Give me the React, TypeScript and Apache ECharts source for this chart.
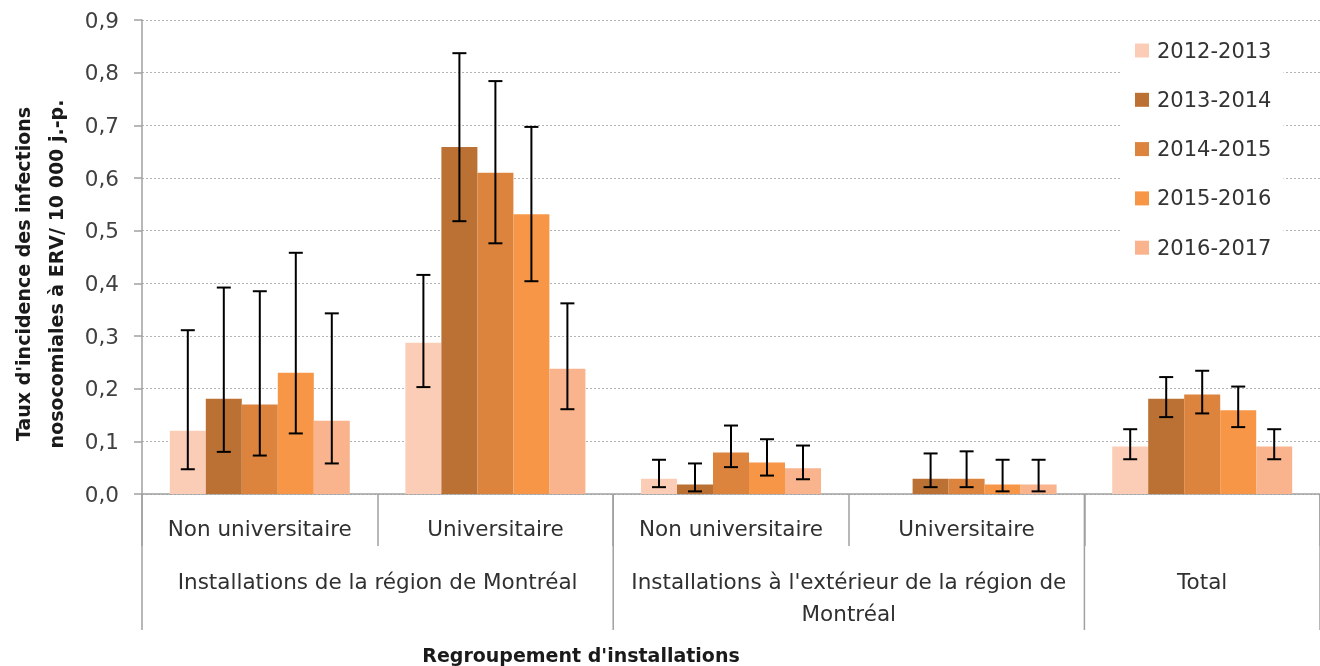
import React, { useEffect, useRef } from "react";
import * as echarts from "echarts";

const categories = ["Non universitaire", "Universitaire", "Non universitaire", "Universitaire", ""];
const groupLabels = ["Installations de la région de Montréal", "Installations à l'extérieur de la région de\nMontréal", "Total"];
const groupStarts = [0, 2, 4];
const groupEnds = [2, 4, 5];

const years = ["2012-2013", "2013-2014", "2014-2015", "2015-2016", "2016-2017"];
const colors = ["#FBCDB6", "#BA7133", "#DC843E", "#F79646", "#F9B38D"];

const v2012 = [0.12, 0.287, 0.029, null, 0.09];
const v2013 = [0.181, 0.659, 0.018, 0.029, 0.181];
const v2014 = [0.17, 0.61, 0.079, 0.029, 0.189];
const v2015 = [0.23, 0.531, 0.06, 0.018, 0.159];
const v2016 = [0.139, 0.238, 0.049, 0.018, 0.09];

const lo2012 = [0.047, 0.203, 0.013, null, 0.066];
const hi2012 = [0.311, 0.416, 0.065, null, 0.123];
const lo2013 = [0.08, 0.518, 0.005, 0.013, 0.146];
const hi2013 = [0.392, 0.837, 0.058, 0.077, 0.222];
const lo2014 = [0.073, 0.476, 0.051, 0.013, 0.153];
const hi2014 = [0.385, 0.784, 0.13, 0.081, 0.234];
const lo2015 = [0.115, 0.404, 0.035, 0.005, 0.127];
const hi2015 = [0.458, 0.697, 0.104, 0.065, 0.204];
const lo2016 = [0.058, 0.161, 0.028, 0.005, 0.066];
const hi2016 = [0.343, 0.362, 0.092, 0.065, 0.123];

const yTicks = [0, 0.1, 0.2, 0.3, 0.4, 0.5, 0.6, 0.7, 0.8, 0.9];
const yTitle = "Taux d'incidence des infections\nnosocomiales à ERV/ 10 000 j.-p.";
const xTitle = "Regroupement d'installations";

const values = [v2012, v2013, v2014, v2015, v2016];
const lows = [lo2012, lo2013, lo2014, lo2015, lo2016];
const highs = [hi2012, hi2013, hi2014, hi2015, hi2016];

const FONT = "DejaVu Sans";
const GAP = 0.236;
const N = years.length;

export default function App() {
  const ref = useRef<HTMLDivElement>(null);
  useEffect(() => {
    if (!ref.current) return;
    const chart = echarts.init(ref.current, undefined, { renderer: "svg" });
    const barSeries = years.map((y, k) => ({
      name: y,
      type: "bar",
      data: values[k].map((v) => (v === null ? "-" : v)),
      itemStyle: { color: colors[k] },
      barGap: "0%",
      barCategoryGap: GAP * 100 + "%",
      z: 2,
    }));
    const errSeries = years.map((y, k) => ({
      name: "err " + y,
      type: "custom",
      z: 5,
      encode: { x: 0, y: [1, 2] },
      data: categories.map((_, i) => [i, lows[k][i] === null ? "-" : lows[k][i], highs[k][i] === null ? "-" : highs[k][i]]),
      renderItem: (params: any, api: any) => {
        const idx = api.value(0);
        const lo = api.value(1);
        const hi = api.value(2);
        if (isNaN(lo) || isNaN(hi)) return null;
        const band = api.size([1, 0])[0];
        const bw = (band * (1 - GAP)) / N;
        const center = api.coord([idx, 0])[0];
        const x = center - (band * (1 - GAP)) / 2 + (k + 0.5) * bw;
        const yl = api.coord([idx, lo])[1];
        const yh = api.coord([idx, hi])[1];
        const cap = 7;
        const st = { stroke: "#000", lineWidth: 2 };
        return {
          type: "group",
          children: [
            { type: "line", shape: { x1: x, y1: yl, x2: x, y2: yh }, style: st },
            { type: "line", shape: { x1: x - cap, y1: yh, x2: x + cap, y2: yh }, style: st },
            { type: "line", shape: { x1: x - cap, y1: yl, x2: x + cap, y2: yl }, style: st },
          ],
        };
      },
    }));
    const option: any = {
      animation: false,
      textStyle: { fontFamily: FONT },
      grid: { left: 142, right: 0, top: 20, bottom: 172, containLabel: false },
      legend: {
        data: years,
        orient: "vertical",
        left: 1122,
        top: 27,
        icon: "rect",
        itemWidth: 14,
        itemHeight: 14,
        itemGap: 28.3,
        padding: [13, 12, 13, 13],
        backgroundColor: "#ffffff",
        textStyle: { fontFamily: FONT, fontSize: 21, color: "#333333", lineHeight: 20, padding: [0, 0, 0, 3] },
        selectedMode: false,
      },
      xAxis: {
        type: "category",
        data: categories,
        axisLine: { lineStyle: { color: "#a0a0a0", width: 1.5 } },
        axisTick: { show: true, interval: 0, length: 52, lineStyle: { color: "#a0a0a0", width: 1.5 } },
        axisLabel: { interval: 0, margin: 23, fontFamily: FONT, fontSize: 21.5, color: "#303030" },
        splitLine: { show: false },
      },
      yAxis: {
        type: "value",
        min: 0,
        max: 0.9,
        interval: 0.1,
        axisLine: { show: true, lineStyle: { color: "#a0a0a0", width: 1.5 } },
        axisTick: { show: true, length: 8, lineStyle: { color: "#a0a0a0", width: 1.5 } },
        axisLabel: {
          margin: 23,
          fontFamily: FONT,
          fontSize: 21.5,
          color: "#404040",
          formatter: (v: number) => {
            const t = yTicks.find((x) => Math.abs(x - v) < 1e-9);
            return (t === undefined ? v : t).toFixed(1).replace(".", ",");
          },
        },
        splitLine: { show: true, lineStyle: { color: "#b4b4b4", type: [2, 2], width: 1.2 } },
      },
      series: [...barSeries, ...errSeries],
    };
    chart.setOption(option);

    const c0 = chart.convertToPixel({ xAxisIndex: 0 }, 0) as number;
    const c1 = chart.convertToPixel({ xAxisIndex: 0 }, 1) as number;
    const band = c1 - c0;
    const axisY = chart.convertToPixel({ yAxisIndex: 0 }, 0) as number;
    const bound = (i: number) => c0 + (i - 0.5) * band;
    const lineStyle = { stroke: "#a0a0a0", lineWidth: 1.5 };
    const graphics: any[] = [];
    const longBounds = [...groupStarts, groupEnds[groupEnds.length - 1]];
    longBounds.forEach((b) => {
      graphics.push({ type: "line", shape: { x1: bound(b), y1: axisY, x2: bound(b), y2: axisY + 136 }, style: lineStyle, silent: true });
    });
    groupLabels.forEach((lab, g) => {
      const cx = (bound(groupStarts[g]) + bound(groupEnds[g])) / 2;
      graphics.push({
        type: "text",
        x: cx,
        y: axisY + 71,
        style: { text: lab, fontFamily: FONT, fontSize: 21.5, fill: "#303030", textAlign: "center", textVerticalAlign: "top", lineHeight: 32 },
        silent: true,
      });
    });
    graphics.push({
      type: "text",
      x: 581,
      y: 655,
      style: { text: xTitle, fontFamily: FONT, fontSize: 19, fontWeight: "bold", fill: "#1a1a1a", textAlign: "center", textVerticalAlign: "middle" },
      silent: true,
    });
    graphics.push({
      type: "text",
      x: 39,
      y: 274,
      rotation: Math.PI / 2,
      style: { text: yTitle, fontFamily: FONT, fontSize: 19, fontWeight: "bold", fill: "#1a1a1a", textAlign: "center", textVerticalAlign: "middle", lineHeight: 33 },
      silent: true,
    });
    chart.setOption({ graphic: graphics });

    return () => chart.dispose();
  }, []);
  return <div ref={ref} style={{ position: "fixed", left: 0, top: 0, width: 1320, height: 666 }} />;
}
